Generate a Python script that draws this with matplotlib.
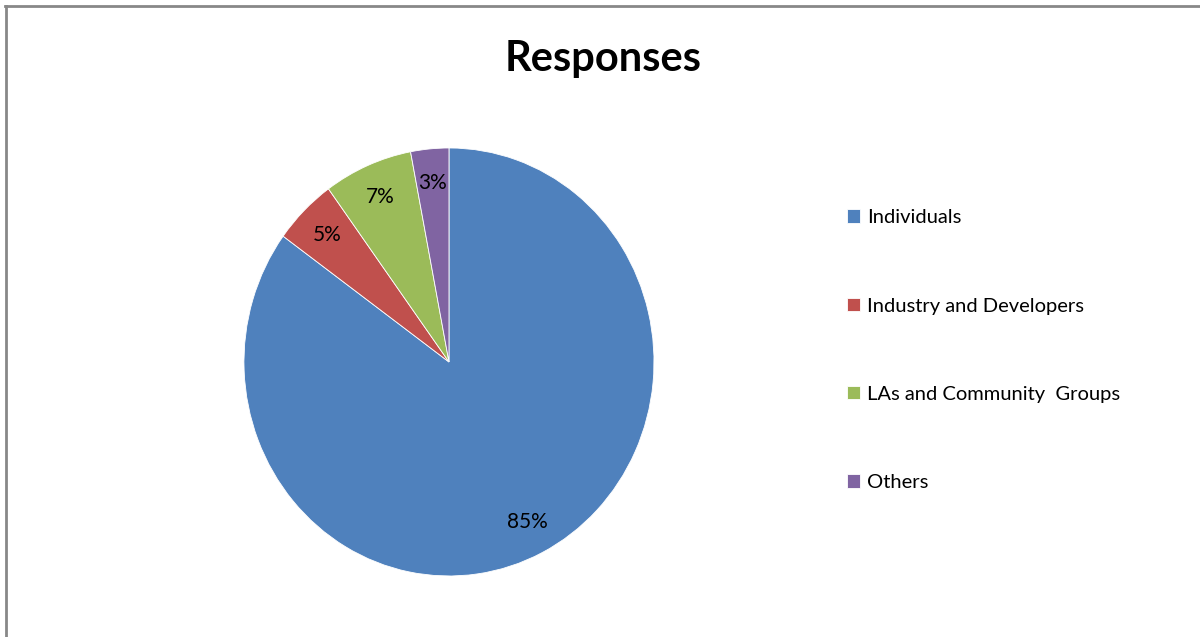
import matplotlib
matplotlib.use("Agg")
from matplotlib import pyplot as plt
from matplotlib.lines import Line2D

# data
groups = ["Individuals", "Industry and Developers", "LAs and Community  Groups", "Others"]
shares = [85, 5, 7, 3]
colors = ["#4F81BD", "#C0504D", "#9BBB59", "#8064A2"]

plt.rcParams['font.family'] = ['Lato', 'DejaVu Sans']

fig = plt.figure(figsize=(12, 6.37), dpi=100)

# chart border (runs off the right and bottom edges)
fig.add_artist(Line2D([0.005, 0.005], [0.0, 0.991], transform=fig.transFigure,
                      color="#888888", linewidth=2))
fig.add_artist(Line2D([0.004, 1.0], [0.990, 0.990], transform=fig.transFigure,
                      color="#888888", linewidth=2))

fig.text(0.503, 0.908, "Responses", ha="center", va="center",
         fontsize=30, fontweight="bold")

ax = fig.add_axes([0.2033, 0.0958, 0.3417, 0.6719])
wedges, texts, autotexts = ax.pie(
    shares,
    colors=colors,
    startangle=90,
    counterclock=False,
    autopct="%d%%",
    pctdistance=0.84,
    wedgeprops=dict(edgecolor="white", linewidth=0.6),
    textprops=dict(fontsize=15, color="black"),
)
ax.set_aspect("auto")
ax.set_xlim(-1, 1)
ax.set_ylim(-1, 1)

fig.legend(
    wedges, groups,
    loc="upper left",
    bbox_to_anchor=(0.6906, 0.700),
    frameon=False,
    fontsize=14.5,
    handlelength=0.65,
    handleheight=0.65,
    handletextpad=0.35,
    labelspacing=3.54,
)

plt.savefig("out.png", dpi=100)
